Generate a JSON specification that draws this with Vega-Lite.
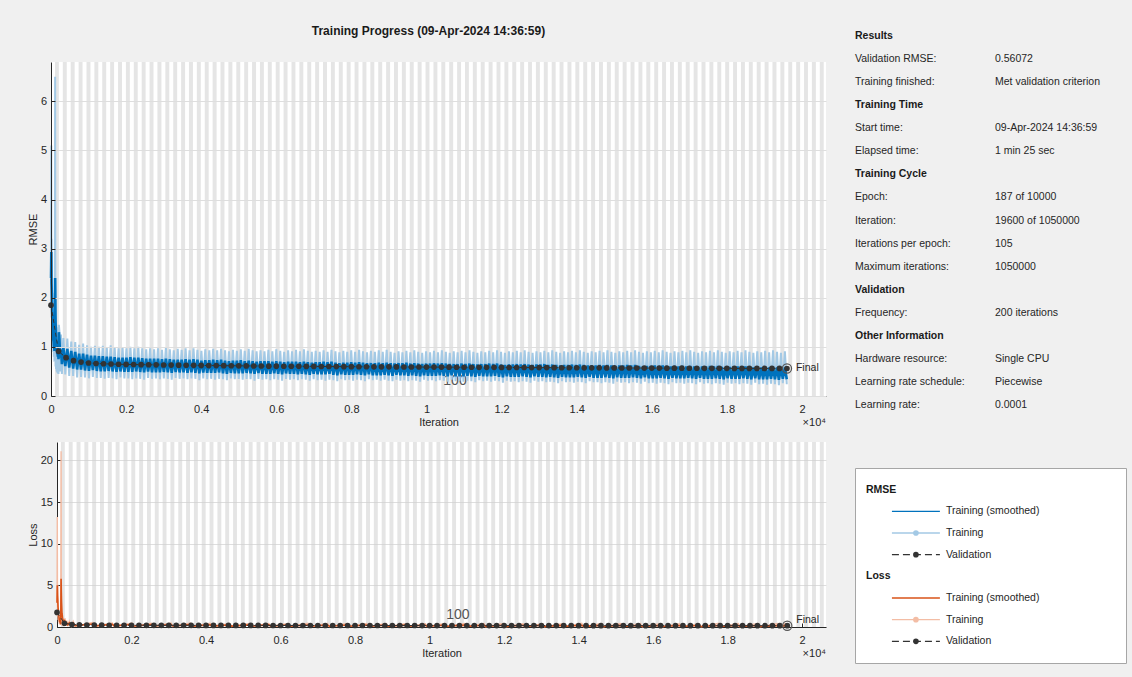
{
  "$schema": "https://vega.github.io/schema/vega-lite/v6.json",
  "background": "#f0f0f0",
  "padding": {"left": 27, "top": 25, "right": 6, "bottom": 15},
  "config": {
    "font": "Liberation Sans",
    "view": {"stroke": null},
    "legend": {"disable": true},
    "axis": {
      "domainColor": "#262626",
      "domainWidth": 1,
      "tickColor": "#262626",
      "tickSize": -4,
      "labelColor": "#262626",
      "labelFontSize": 11,
      "titleColor": "#262626",
      "titleFontSize": 11,
      "titleFontWeight": "normal",
      "gridColor": "#dedede",
      "labelFlush": false,
      "labelOverlap": false
    },
    "axisX": {"grid": false, "labelPadding": 11, "titlePadding": 2},
    "axisY": {"grid": true, "labelPadding": 8.5, "titlePadding": 2}
  },
  "datasets": {
    "stripes": [
      {"i":105,"j":210},{"i":315,"j":420},{"i":525,"j":630},{"i":735,"j":840},{"i":945,"j":1050},
      {"i":1155,"j":1260},{"i":1365,"j":1470},{"i":1575,"j":1680},{"i":1785,"j":1890},{"i":1995,"j":2100},
      {"i":2205,"j":2310},{"i":2415,"j":2520},{"i":2625,"j":2730},{"i":2835,"j":2940},{"i":3045,"j":3150},
      {"i":3255,"j":3360},{"i":3465,"j":3570},{"i":3675,"j":3780},{"i":3885,"j":3990},{"i":4095,"j":4200},
      {"i":4305,"j":4410},{"i":4515,"j":4620},{"i":4725,"j":4830},{"i":4935,"j":5040},{"i":5145,"j":5250},
      {"i":5355,"j":5460},{"i":5565,"j":5670},{"i":5775,"j":5880},{"i":5985,"j":6090},{"i":6195,"j":6300},
      {"i":6405,"j":6510},{"i":6615,"j":6720},{"i":6825,"j":6930},{"i":7035,"j":7140},{"i":7245,"j":7350},
      {"i":7455,"j":7560},{"i":7665,"j":7770},{"i":7875,"j":7980},{"i":8085,"j":8190},{"i":8295,"j":8400},
      {"i":8505,"j":8610},{"i":8715,"j":8820},{"i":8925,"j":9030},{"i":9135,"j":9240},{"i":9345,"j":9450},
      {"i":9555,"j":9660},{"i":9765,"j":9870},{"i":9975,"j":10080},{"i":10185,"j":10290},{"i":10395,"j":10500},
      {"i":10605,"j":10710},{"i":10815,"j":10920},{"i":11025,"j":11130},{"i":11235,"j":11340},{"i":11445,"j":11550},
      {"i":11655,"j":11760},{"i":11865,"j":11970},{"i":12075,"j":12180},{"i":12285,"j":12390},{"i":12495,"j":12600},
      {"i":12705,"j":12810},{"i":12915,"j":13020},{"i":13125,"j":13230},{"i":13335,"j":13440},{"i":13545,"j":13650},
      {"i":13755,"j":13860},{"i":13965,"j":14070},{"i":14175,"j":14280},{"i":14385,"j":14490},{"i":14595,"j":14700},
      {"i":14805,"j":14910},{"i":15015,"j":15120},{"i":15225,"j":15330},{"i":15435,"j":15540},{"i":15645,"j":15750},
      {"i":15855,"j":15960},{"i":16065,"j":16170},{"i":16275,"j":16380},{"i":16485,"j":16590},{"i":16695,"j":16800},
      {"i":16905,"j":17010},{"i":17115,"j":17220},{"i":17325,"j":17430},{"i":17535,"j":17640},{"i":17745,"j":17850},
      {"i":17955,"j":18060},{"i":18165,"j":18270},{"i":18375,"j":18480},{"i":18585,"j":18690},{"i":18795,"j":18900},
      {"i":19005,"j":19110},{"i":19215,"j":19320},{"i":19425,"j":19530},{"i":19635,"j":19740},{"i":19845,"j":19950},
      {"i":20055,"j":20160},{"i":20265,"j":20370},{"i":20475,"j":20580}
    ],
    "rmse": [
      {"i":1,"t":2.4,"s":2.4},{"i":8,"t":5.1,"s":2.93},{"i":14,"t":1.6,"s":2.3},{"i":20,"t":3.2,"s":2.15},
      {"i":28,"t":1.3,"s":1.8},{"i":36,"t":2.1,"s":1.62},{"i":44,"t":1.1,"s":1.42},{"i":52,"t":1.7,"s":1.3},
      {"i":60,"t":0.9,"s":1.15},{"i":68,"t":1.5,"s":1.12},{"i":76,"t":0.8,"s":1.0},{"i":84,"t":1.4,"s":1.02},
      {"i":92,"t":0.7,"s":0.92},{"i":100,"t":1.3,"s":0.95},{"i":110,"t":6.5,"s":2.4},{"i":116,"t":1.2,"s":1.95},
      {"i":122,"t":0.6,"s":1.5},{"i":128,"t":1.6,"s":1.35},{"i":134,"t":0.55,"s":1.1},{"i":142,"t":1.45,"s":1.12},
      {"i":150,"t":0.5,"s":0.95},{"i":158,"t":1.4,"s":1.05},{"i":166,"t":0.48,"s":0.85},{"i":174,"t":1.35,"s":0.95},
      {"i":182,"t":0.46,"s":0.8},{"i":190,"t":1.3,"s":0.9},{"i":200,"t":0.45,"s":0.75},{"i":210,"t":1.45,"s":1.3},
      {"i":225,"t":1.3,"s":1.15},{"i":245,"t":0.5,"s":0.78},{"i":265,"t":1.25,"s":0.95},{"i":290,"t":0.45,"s":0.65},
      {"i":330,"t":1.18,"s":0.99},{"i":380,"t":0.44,"s":0.61},{"i":435,"t":1.17,"s":0.96},{"i":485,"t":0.41,"s":0.58},
      {"i":540,"t":1.11,"s":0.92},{"i":590,"t":0.41,"s":0.56},{"i":645,"t":1.1,"s":0.9},{"i":695,"t":0.38,"s":0.54},
      {"i":750,"t":1.04,"s":0.86},{"i":800,"t":0.39,"s":0.54},{"i":855,"t":1.07,"s":0.86},{"i":905,"t":0.38,"s":0.52},
      {"i":960,"t":1.03,"s":0.84},{"i":1010,"t":0.36,"s":0.51},{"i":1065,"t":1.0,"s":0.82},{"i":1115,"t":0.39,"s":0.53},
      {"i":1170,"t":1.02,"s":0.82},{"i":1220,"t":0.37,"s":0.51},{"i":1275,"t":1.0,"s":0.81},{"i":1325,"t":0.37,"s":0.5},
      {"i":1380,"t":1.02,"s":0.81},{"i":1430,"t":0.35,"s":0.5},{"i":1485,"t":0.99,"s":0.8},{"i":1535,"t":0.37,"s":0.51},
      {"i":1590,"t":1.03,"s":0.8},{"i":1640,"t":0.36,"s":0.5},{"i":1695,"t":0.99,"s":0.79},{"i":1745,"t":0.34,"s":0.49},
      {"i":1800,"t":0.97,"s":0.78},{"i":1850,"t":0.38,"s":0.5},{"i":1905,"t":0.99,"s":0.78},{"i":1955,"t":0.36,"s":0.49},
      {"i":2010,"t":0.97,"s":0.78},{"i":2060,"t":0.36,"s":0.49},{"i":2115,"t":1.0,"s":0.79},{"i":2165,"t":0.34,"s":0.49},
      {"i":2220,"t":0.97,"s":0.78},{"i":2270,"t":0.36,"s":0.5},{"i":2325,"t":1.0,"s":0.78},{"i":2375,"t":0.35,"s":0.49},
      {"i":2430,"t":0.97,"s":0.77},{"i":2480,"t":0.33,"s":0.48},{"i":2535,"t":0.95,"s":0.76},{"i":2585,"t":0.37,"s":0.5},
      {"i":2640,"t":0.97,"s":0.76},{"i":2690,"t":0.35,"s":0.48},{"i":2745,"t":0.95,"s":0.76},{"i":2795,"t":0.36,"s":0.48},
      {"i":2850,"t":0.97,"s":0.76},{"i":2900,"t":0.34,"s":0.48},{"i":2955,"t":0.94,"s":0.75},{"i":3005,"t":0.36,"s":0.49},
      {"i":3060,"t":0.98,"s":0.76},{"i":3110,"t":0.35,"s":0.48},{"i":3165,"t":0.95,"s":0.75},{"i":3215,"t":0.33,"s":0.47},
      {"i":3270,"t":0.93,"s":0.74},{"i":3320,"t":0.37,"s":0.49},{"i":3375,"t":0.96,"s":0.74},{"i":3425,"t":0.35,"s":0.48},
      {"i":3480,"t":0.94,"s":0.74},{"i":3530,"t":0.36,"s":0.48},{"i":3585,"t":0.97,"s":0.75},{"i":3635,"t":0.34,"s":0.47},
      {"i":3690,"t":0.93,"s":0.74},{"i":3740,"t":0.36,"s":0.48},{"i":3795,"t":0.97,"s":0.75},{"i":3845,"t":0.35,"s":0.47},
      {"i":3900,"t":0.94,"s":0.74},{"i":3950,"t":0.32,"s":0.46},{"i":4005,"t":0.92,"s":0.72},{"i":4055,"t":0.36,"s":0.48},
      {"i":4110,"t":0.95,"s":0.73},{"i":4160,"t":0.34,"s":0.47},{"i":4215,"t":0.93,"s":0.73},{"i":4265,"t":0.35,"s":0.47},
      {"i":4320,"t":0.96,"s":0.74},{"i":4370,"t":0.33,"s":0.47},{"i":4425,"t":0.93,"s":0.73},{"i":4475,"t":0.35,"s":0.48},
      {"i":4530,"t":0.96,"s":0.74},{"i":4580,"t":0.34,"s":0.46},{"i":4635,"t":0.93,"s":0.72},{"i":4685,"t":0.32,"s":0.45},
      {"i":4740,"t":0.91,"s":0.71},{"i":4790,"t":0.36,"s":0.47},{"i":4845,"t":0.94,"s":0.72},{"i":4895,"t":0.34,"s":0.46},
      {"i":4950,"t":0.92,"s":0.72},{"i":5000,"t":0.35,"s":0.46},{"i":5055,"t":0.95,"s":0.73},{"i":5105,"t":0.33,"s":0.46},
      {"i":5160,"t":0.92,"s":0.71},{"i":5210,"t":0.35,"s":0.47},{"i":5265,"t":0.96,"s":0.72},{"i":5315,"t":0.34,"s":0.46},
      {"i":5370,"t":0.93,"s":0.71},{"i":5420,"t":0.31,"s":0.45},{"i":5475,"t":0.91,"s":0.7},{"i":5525,"t":0.35,"s":0.47},
      {"i":5580,"t":0.93,"s":0.71},{"i":5630,"t":0.33,"s":0.45},{"i":5685,"t":0.91,"s":0.71},{"i":5735,"t":0.34,"s":0.45},
      {"i":5790,"t":0.94,"s":0.71},{"i":5840,"t":0.32,"s":0.45},{"i":5895,"t":0.91,"s":0.7},{"i":5945,"t":0.34,"s":0.46},
      {"i":6000,"t":0.95,"s":0.71},{"i":6050,"t":0.33,"s":0.45},{"i":6105,"t":0.92,"s":0.7},{"i":6155,"t":0.31,"s":0.44},
      {"i":6210,"t":0.9,"s":0.69},{"i":6260,"t":0.35,"s":0.46},{"i":6315,"t":0.93,"s":0.7},{"i":6365,"t":0.33,"s":0.45},
      {"i":6420,"t":0.91,"s":0.7},{"i":6470,"t":0.34,"s":0.45},{"i":6525,"t":0.94,"s":0.7},{"i":6575,"t":0.32,"s":0.44},
      {"i":6630,"t":0.91,"s":0.69},{"i":6680,"t":0.34,"s":0.45},{"i":6735,"t":0.95,"s":0.7},{"i":6785,"t":0.33,"s":0.44},
      {"i":6840,"t":0.92,"s":0.69},{"i":6890,"t":0.31,"s":0.43},{"i":6945,"t":0.9,"s":0.68},{"i":6995,"t":0.34,"s":0.45},
      {"i":7050,"t":0.92,"s":0.69},{"i":7100,"t":0.32,"s":0.44},{"i":7155,"t":0.9,"s":0.69},{"i":7205,"t":0.33,"s":0.44},
      {"i":7260,"t":0.93,"s":0.7},{"i":7310,"t":0.31,"s":0.44},{"i":7365,"t":0.9,"s":0.69},{"i":7415,"t":0.33,"s":0.45},
      {"i":7470,"t":0.94,"s":0.7},{"i":7520,"t":0.32,"s":0.43},{"i":7575,"t":0.91,"s":0.68},{"i":7625,"t":0.3,"s":0.42},
      {"i":7680,"t":0.89,"s":0.67},{"i":7730,"t":0.34,"s":0.44},{"i":7785,"t":0.92,"s":0.68},{"i":7835,"t":0.32,"s":0.43},
      {"i":7890,"t":0.9,"s":0.68},{"i":7940,"t":0.33,"s":0.43},{"i":7995,"t":0.93,"s":0.69},{"i":8045,"t":0.31,"s":0.43},
      {"i":8100,"t":0.9,"s":0.68},{"i":8150,"t":0.33,"s":0.44},{"i":8205,"t":0.94,"s":0.69},{"i":8255,"t":0.32,"s":0.43},
      {"i":8310,"t":0.91,"s":0.68},{"i":8360,"t":0.3,"s":0.42},{"i":8415,"t":0.89,"s":0.67},{"i":8465,"t":0.34,"s":0.44},
      {"i":8520,"t":0.92,"s":0.67},{"i":8570,"t":0.32,"s":0.42},{"i":8625,"t":0.9,"s":0.67},{"i":8675,"t":0.33,"s":0.42},
      {"i":8730,"t":0.93,"s":0.68},{"i":8780,"t":0.31,"s":0.42},{"i":8835,"t":0.9,"s":0.67},{"i":8885,"t":0.33,"s":0.43},
      {"i":8940,"t":0.94,"s":0.68},{"i":8990,"t":0.31,"s":0.42},{"i":9045,"t":0.9,"s":0.67},{"i":9095,"t":0.3,"s":0.41},
      {"i":9150,"t":0.88,"s":0.66},{"i":9200,"t":0.33,"s":0.43},{"i":9255,"t":0.91,"s":0.67},{"i":9305,"t":0.31,"s":0.42},
      {"i":9360,"t":0.89,"s":0.67},{"i":9410,"t":0.32,"s":0.42},{"i":9465,"t":0.92,"s":0.68},{"i":9515,"t":0.3,"s":0.41},
      {"i":9570,"t":0.89,"s":0.66},{"i":9620,"t":0.32,"s":0.42},{"i":9675,"t":0.93,"s":0.67},{"i":9725,"t":0.31,"s":0.41},
      {"i":9780,"t":0.9,"s":0.66},{"i":9830,"t":0.29,"s":0.4},{"i":9885,"t":0.88,"s":0.65},{"i":9935,"t":0.33,"s":0.42},
      {"i":9990,"t":0.91,"s":0.66},{"i":10040,"t":0.31,"s":0.41},{"i":10095,"t":0.89,"s":0.66},{"i":10145,"t":0.32,"s":0.41},
      {"i":10200,"t":0.92,"s":0.67},{"i":10250,"t":0.3,"s":0.41},{"i":10305,"t":0.89,"s":0.66},{"i":10355,"t":0.32,"s":0.42},
      {"i":10410,"t":0.93,"s":0.67},{"i":10460,"t":0.31,"s":0.41},{"i":10515,"t":0.9,"s":0.66},{"i":10565,"t":0.29,"s":0.4},
      {"i":10620,"t":0.88,"s":0.65},{"i":10670,"t":0.33,"s":0.42},{"i":10725,"t":0.91,"s":0.65},{"i":10775,"t":0.3,"s":0.4},
      {"i":10830,"t":0.89,"s":0.65},{"i":10880,"t":0.31,"s":0.4},{"i":10935,"t":0.92,"s":0.66},{"i":10985,"t":0.29,"s":0.4},
      {"i":11040,"t":0.89,"s":0.65},{"i":11090,"t":0.31,"s":0.41},{"i":11145,"t":0.93,"s":0.66},{"i":11195,"t":0.3,"s":0.4},
      {"i":11250,"t":0.9,"s":0.65},{"i":11300,"t":0.28,"s":0.39},{"i":11355,"t":0.88,"s":0.64},{"i":11405,"t":0.32,"s":0.41},
      {"i":11460,"t":0.91,"s":0.65},{"i":11510,"t":0.3,"s":0.4},{"i":11565,"t":0.89,"s":0.65},{"i":11615,"t":0.31,"s":0.4},
      {"i":11670,"t":0.92,"s":0.66},{"i":11720,"t":0.29,"s":0.4},{"i":11775,"t":0.89,"s":0.65},{"i":11825,"t":0.31,"s":0.41},
      {"i":11880,"t":0.93,"s":0.66},{"i":11930,"t":0.3,"s":0.39},{"i":11985,"t":0.9,"s":0.64},{"i":12035,"t":0.27,"s":0.38},
      {"i":12090,"t":0.88,"s":0.63},{"i":12140,"t":0.31,"s":0.4},{"i":12195,"t":0.91,"s":0.64},{"i":12245,"t":0.29,"s":0.39},
      {"i":12300,"t":0.89,"s":0.64},{"i":12350,"t":0.3,"s":0.39},{"i":12405,"t":0.92,"s":0.65},{"i":12455,"t":0.28,"s":0.39},
      {"i":12510,"t":0.89,"s":0.64},{"i":12560,"t":0.3,"s":0.4},{"i":12615,"t":0.93,"s":0.65},{"i":12665,"t":0.29,"s":0.39},
      {"i":12720,"t":0.9,"s":0.64},{"i":12770,"t":0.27,"s":0.38},{"i":12825,"t":0.88,"s":0.63},{"i":12875,"t":0.31,"s":0.4},
      {"i":12930,"t":0.91,"s":0.64},{"i":12980,"t":0.29,"s":0.39},{"i":13035,"t":0.89,"s":0.64},{"i":13085,"t":0.3,"s":0.39},
      {"i":13140,"t":0.92,"s":0.65},{"i":13190,"t":0.28,"s":0.38},{"i":13245,"t":0.89,"s":0.63},{"i":13295,"t":0.29,"s":0.39},
      {"i":13350,"t":0.93,"s":0.64},{"i":13400,"t":0.28,"s":0.38},{"i":13455,"t":0.9,"s":0.63},{"i":13505,"t":0.26,"s":0.37},
      {"i":13560,"t":0.88,"s":0.62},{"i":13610,"t":0.3,"s":0.39},{"i":13665,"t":0.91,"s":0.63},{"i":13715,"t":0.28,"s":0.38},
      {"i":13770,"t":0.89,"s":0.63},{"i":13820,"t":0.29,"s":0.38},{"i":13875,"t":0.92,"s":0.64},{"i":13925,"t":0.27,"s":0.38},
      {"i":13980,"t":0.89,"s":0.63},{"i":14030,"t":0.29,"s":0.39},{"i":14085,"t":0.93,"s":0.64},{"i":14135,"t":0.28,"s":0.38},
      {"i":14190,"t":0.9,"s":0.63},{"i":14240,"t":0.26,"s":0.37},{"i":14295,"t":0.88,"s":0.62},{"i":14345,"t":0.3,"s":0.39},
      {"i":14400,"t":0.91,"s":0.62},{"i":14450,"t":0.28,"s":0.37},{"i":14505,"t":0.89,"s":0.62},{"i":14555,"t":0.28,"s":0.37},
      {"i":14610,"t":0.92,"s":0.63},{"i":14660,"t":0.26,"s":0.37},{"i":14715,"t":0.89,"s":0.62},{"i":14765,"t":0.28,"s":0.38},
      {"i":14820,"t":0.93,"s":0.63},{"i":14870,"t":0.27,"s":0.37},{"i":14925,"t":0.9,"s":0.62},{"i":14975,"t":0.25,"s":0.36},
      {"i":15030,"t":0.88,"s":0.61},{"i":15080,"t":0.29,"s":0.38},{"i":15135,"t":0.91,"s":0.62},{"i":15185,"t":0.27,"s":0.37},
      {"i":15240,"t":0.89,"s":0.62},{"i":15290,"t":0.28,"s":0.37},{"i":15345,"t":0.92,"s":0.63},{"i":15395,"t":0.26,"s":0.37},
      {"i":15450,"t":0.89,"s":0.62},{"i":15500,"t":0.28,"s":0.38},{"i":15555,"t":0.93,"s":0.63},{"i":15605,"t":0.27,"s":0.37},
      {"i":15660,"t":0.9,"s":0.61},{"i":15710,"t":0.25,"s":0.36},{"i":15765,"t":0.88,"s":0.6},{"i":15815,"t":0.29,"s":0.38},
      {"i":15870,"t":0.91,"s":0.61},{"i":15920,"t":0.26,"s":0.36},{"i":15975,"t":0.89,"s":0.61},{"i":16025,"t":0.27,"s":0.36},
      {"i":16080,"t":0.92,"s":0.62},{"i":16130,"t":0.25,"s":0.36},{"i":16185,"t":0.89,"s":0.61},{"i":16235,"t":0.27,"s":0.37},
      {"i":16290,"t":0.93,"s":0.62},{"i":16340,"t":0.26,"s":0.36},{"i":16395,"t":0.9,"s":0.61},{"i":16445,"t":0.24,"s":0.35},
      {"i":16500,"t":0.88,"s":0.6},{"i":16550,"t":0.28,"s":0.37},{"i":16605,"t":0.91,"s":0.61},{"i":16655,"t":0.26,"s":0.36},
      {"i":16710,"t":0.89,"s":0.6},{"i":16760,"t":0.27,"s":0.36},{"i":16815,"t":0.92,"s":0.61},{"i":16865,"t":0.25,"s":0.36},
      {"i":16920,"t":0.89,"s":0.6},{"i":16970,"t":0.27,"s":0.37},{"i":17025,"t":0.93,"s":0.61},{"i":17075,"t":0.26,"s":0.36},
      {"i":17130,"t":0.9,"s":0.6},{"i":17180,"t":0.24,"s":0.35},{"i":17235,"t":0.88,"s":0.59},{"i":17285,"t":0.28,"s":0.37},
      {"i":17340,"t":0.91,"s":0.6},{"i":17390,"t":0.25,"s":0.35},{"i":17445,"t":0.89,"s":0.6},{"i":17495,"t":0.26,"s":0.35},
      {"i":17550,"t":0.92,"s":0.61},{"i":17600,"t":0.24,"s":0.35},{"i":17655,"t":0.89,"s":0.6},{"i":17705,"t":0.26,"s":0.36},
      {"i":17760,"t":0.93,"s":0.61},{"i":17810,"t":0.25,"s":0.35},{"i":17865,"t":0.9,"s":0.59},{"i":17915,"t":0.23,"s":0.34},
      {"i":17970,"t":0.88,"s":0.58},{"i":18020,"t":0.27,"s":0.36},{"i":18075,"t":0.91,"s":0.59},{"i":18125,"t":0.25,"s":0.35},
      {"i":18180,"t":0.89,"s":0.59},{"i":18230,"t":0.26,"s":0.35},{"i":18285,"t":0.92,"s":0.6},{"i":18335,"t":0.24,"s":0.35},
      {"i":18390,"t":0.89,"s":0.59},{"i":18440,"t":0.26,"s":0.36},{"i":18495,"t":0.93,"s":0.6},{"i":18545,"t":0.25,"s":0.35},
      {"i":18600,"t":0.9,"s":0.59},{"i":18650,"t":0.23,"s":0.34},{"i":18705,"t":0.88,"s":0.58},{"i":18755,"t":0.27,"s":0.36},
      {"i":18810,"t":0.91,"s":0.59},{"i":18860,"t":0.24,"s":0.34},{"i":18915,"t":0.89,"s":0.58},{"i":18965,"t":0.25,"s":0.34},
      {"i":19020,"t":0.92,"s":0.59},{"i":19070,"t":0.23,"s":0.34},{"i":19125,"t":0.89,"s":0.58},{"i":19175,"t":0.25,"s":0.35},
      {"i":19230,"t":0.93,"s":0.59},{"i":19280,"t":0.24,"s":0.34},{"i":19335,"t":0.9,"s":0.58},{"i":19385,"t":0.22,"s":0.33},
      {"i":19440,"t":0.88,"s":0.57},{"i":19490,"t":0.26,"s":0.35},{"i":19545,"t":0.91,"s":0.58},{"i":19595,"t":0.24,"s":0.34}
    ],
    "loss": [
      {"i":1,"t":2.9,"s":2.9},{"i":8,"t":13.2,"s":5.0},{"i":14,"t":1.3,"s":3.8},{"i":20,"t":5.1,"s":3.3},
      {"i":28,"t":0.85,"s":2.4},{"i":36,"t":2.2,"s":2.0},{"i":44,"t":0.6,"s":1.5},{"i":52,"t":1.45,"s":1.2},
      {"i":60,"t":0.4,"s":0.9},{"i":68,"t":1.1,"s":0.8},{"i":76,"t":0.32,"s":0.6},{"i":84,"t":1.0,"s":0.58},
      {"i":92,"t":0.25,"s":0.45},{"i":100,"t":0.85,"s":0.48},{"i":110,"t":21.1,"s":5.8},{"i":116,"t":0.72,"s":4.2},
      {"i":122,"t":0.18,"s":3.0},{"i":128,"t":1.3,"s":2.3},{"i":134,"t":0.15,"s":1.6},{"i":142,"t":1.05,"s":1.4},
      {"i":150,"t":0.13,"s":1.0},{"i":158,"t":0.98,"s":0.95},{"i":166,"t":0.12,"s":0.7},{"i":174,"t":0.9,"s":0.7},
      {"i":182,"t":0.1,"s":0.5},{"i":190,"t":0.85,"s":0.55},{"i":200,"t":0.1,"s":0.4},{"i":210,"t":1.05,"s":0.7},
      {"i":225,"t":0.85,"s":0.6},{"i":245,"t":0.13,"s":0.35},{"i":265,"t":0.78,"s":0.42},{"i":290,"t":0.1,"s":0.25},
      {"i":330,"t":0.7,"s":0.49},{"i":380,"t":0.1,"s":0.19},
      {"i":435,"t":0.68,"s":0.46},{"i":485,"t":0.084,"s":0.168},{"i":960,"t":0.53,"s":0.353},{"i":1010,"t":0.065,"s":0.13},
      {"i":1485,"t":0.49,"s":0.32},{"i":1535,"t":0.068,"s":0.13},{"i":2010,"t":0.47,"s":0.304},{"i":2060,"t":0.065,"s":0.12},
      {"i":2535,"t":0.45,"s":0.289},{"i":2585,"t":0.068,"s":0.125},{"i":3060,"t":0.48,"s":0.289},{"i":3110,"t":0.061,"s":0.115},
      {"i":3585,"t":0.47,"s":0.281},{"i":3635,"t":0.058,"s":0.11},{"i":4110,"t":0.451,"s":0.266},{"i":4160,"t":0.058,"s":0.11},
      {"i":4635,"t":0.432,"s":0.259},{"i":4685,"t":0.051,"s":0.101},{"i":5160,"t":0.423,"s":0.252},{"i":5210,"t":0.061,"s":0.11},
      {"i":5685,"t":0.414,"s":0.252},{"i":5735,"t":0.058,"s":0.101},{"i":6210,"t":0.405,"s":0.238},{"i":6260,"t":0.061,"s":0.106},
      {"i":6735,"t":0.451,"s":0.245},{"i":6785,"t":0.054,"s":0.097},{"i":7260,"t":0.432,"s":0.245},{"i":7310,"t":0.048,"s":0.097},
      {"i":7785,"t":0.423,"s":0.231},{"i":7835,"t":0.051,"s":0.092},{"i":8310,"t":0.414,"s":0.231},{"i":8360,"t":0.045,"s":0.088},
      {"i":8835,"t":0.405,"s":0.224},{"i":8885,"t":0.054,"s":0.092},{"i":9360,"t":0.396,"s":0.224},{"i":9410,"t":0.051,"s":0.088},
      {"i":9885,"t":0.387,"s":0.211},{"i":9935,"t":0.054,"s":0.088},{"i":10410,"t":0.432,"s":0.224},{"i":10460,"t":0.048,"s":0.084},
      {"i":10935,"t":0.423,"s":0.218},{"i":10985,"t":0.042,"s":0.08},{"i":11460,"t":0.414,"s":0.211},{"i":11510,"t":0.045,"s":0.08},
      {"i":11985,"t":0.405,"s":0.205},{"i":12035,"t":0.036,"s":0.072},{"i":12510,"t":0.396,"s":0.205},{"i":12560,"t":0.045,"s":0.08},
      {"i":13035,"t":0.396,"s":0.205},{"i":13085,"t":0.045,"s":0.076},{"i":13560,"t":0.387,"s":0.192},{"i":13610,"t":0.045,"s":0.076},
      {"i":14085,"t":0.432,"s":0.205},{"i":14135,"t":0.039,"s":0.072},{"i":14610,"t":0.423,"s":0.198},{"i":14660,"t":0.034,"s":0.068},
      {"i":15135,"t":0.414,"s":0.192},{"i":15185,"t":0.036,"s":0.068},{"i":15660,"t":0.405,"s":0.186},{"i":15710,"t":0.031,"s":0.065},
      {"i":16185,"t":0.396,"s":0.186},{"i":16235,"t":0.036,"s":0.068},{"i":16710,"t":0.396,"s":0.18},{"i":16760,"t":0.036,"s":0.065},
      {"i":17235,"t":0.387,"s":0.174},{"i":17285,"t":0.039,"s":0.068},{"i":17760,"t":0.432,"s":0.186},{"i":17810,"t":0.031,"s":0.061},
      {"i":18285,"t":0.423,"s":0.18},{"i":18335,"t":0.029,"s":0.061},{"i":18810,"t":0.414,"s":0.174},{"i":18860,"t":0.029,"s":0.058},
      {"i":19335,"t":0.405,"s":0.168},{"i":19385,"t":0.024,"s":0.054},{"i":19545,"t":0.414,"s":0.168},{"i":19595,"t":0.029,"s":0.058}
    ],
    "val": [
      {"i":0,"r":1.85,"l":1.75},{"i":200,"r":0.91,"l":0.45},{"i":400,"r":0.78,"l":0.304},{"i":600,"r":0.72,"l":0.259},
      {"i":800,"r":0.69,"l":0.238},{"i":1000,"r":0.672,"l":0.226},{"i":1200,"r":0.662,"l":0.219},{"i":1400,"r":0.656,"l":0.215},
      {"i":1600,"r":0.651,"l":0.212},{"i":1800,"r":0.647,"l":0.209},{"i":2000,"r":0.643,"l":0.207},{"i":2200,"r":0.641,"l":0.205},
      {"i":2400,"r":0.638,"l":0.204},{"i":2600,"r":0.636,"l":0.202},{"i":2800,"r":0.634,"l":0.201},{"i":3000,"r":0.632,"l":0.2},
      {"i":3200,"r":0.63,"l":0.198},{"i":3400,"r":0.628,"l":0.197},{"i":3600,"r":0.626,"l":0.196},{"i":3800,"r":0.624,"l":0.195},
      {"i":4000,"r":0.622,"l":0.193},{"i":4200,"r":0.62,"l":0.192},{"i":4400,"r":0.619,"l":0.192},{"i":4600,"r":0.617,"l":0.19},
      {"i":4800,"r":0.616,"l":0.19},{"i":5000,"r":0.614,"l":0.189},{"i":5200,"r":0.613,"l":0.188},{"i":5400,"r":0.611,"l":0.187},
      {"i":5600,"r":0.61,"l":0.186},{"i":5800,"r":0.608,"l":0.185},{"i":6000,"r":0.607,"l":0.184},{"i":6200,"r":0.606,"l":0.184},
      {"i":6400,"r":0.605,"l":0.183},{"i":6600,"r":0.604,"l":0.182},{"i":6800,"r":0.603,"l":0.182},{"i":7000,"r":0.602,"l":0.181},
      {"i":7200,"r":0.601,"l":0.181},{"i":7400,"r":0.6,"l":0.18},{"i":7600,"r":0.599,"l":0.179},{"i":7800,"r":0.598,"l":0.179},
      {"i":8000,"r":0.597,"l":0.178},{"i":8200,"r":0.596,"l":0.178},{"i":8400,"r":0.595,"l":0.177},{"i":8600,"r":0.594,"l":0.176},
      {"i":8800,"r":0.594,"l":0.176},{"i":9000,"r":0.593,"l":0.176},{"i":9200,"r":0.592,"l":0.175},{"i":9400,"r":0.591,"l":0.175},
      {"i":9600,"r":0.591,"l":0.175},{"i":9800,"r":0.59,"l":0.174},{"i":10000,"r":0.589,"l":0.173},{"i":10200,"r":0.588,"l":0.173},
      {"i":10400,"r":0.588,"l":0.173},{"i":10600,"r":0.587,"l":0.172},{"i":10800,"r":0.586,"l":0.172},{"i":11000,"r":0.585,"l":0.171},
      {"i":11200,"r":0.585,"l":0.171},{"i":11400,"r":0.584,"l":0.171},{"i":11600,"r":0.583,"l":0.17},{"i":11800,"r":0.583,"l":0.17},
      {"i":12000,"r":0.582,"l":0.169},{"i":12200,"r":0.581,"l":0.169},{"i":12400,"r":0.58,"l":0.168},{"i":12600,"r":0.58,"l":0.168},
      {"i":12800,"r":0.579,"l":0.168},{"i":13000,"r":0.578,"l":0.167},{"i":13200,"r":0.578,"l":0.167},{"i":13400,"r":0.577,"l":0.166},
      {"i":13600,"r":0.576,"l":0.166},{"i":13800,"r":0.576,"l":0.166},{"i":14000,"r":0.575,"l":0.165},{"i":14200,"r":0.574,"l":0.165},
      {"i":14400,"r":0.574,"l":0.165},{"i":14600,"r":0.573,"l":0.164},{"i":14800,"r":0.572,"l":0.164},{"i":15000,"r":0.572,"l":0.164},
      {"i":15200,"r":0.571,"l":0.163},{"i":15400,"r":0.57,"l":0.162},{"i":15600,"r":0.57,"l":0.162},{"i":15800,"r":0.569,"l":0.162},
      {"i":16000,"r":0.568,"l":0.161},{"i":16200,"r":0.568,"l":0.161},{"i":16400,"r":0.567,"l":0.161},{"i":16600,"r":0.567,"l":0.161},
      {"i":16800,"r":0.566,"l":0.16},{"i":17000,"r":0.565,"l":0.16},{"i":17200,"r":0.565,"l":0.16},{"i":17400,"r":0.564,"l":0.159},
      {"i":17600,"r":0.564,"l":0.159},{"i":17800,"r":0.563,"l":0.158},{"i":18000,"r":0.563,"l":0.158},{"i":18200,"r":0.562,"l":0.158},
      {"i":18400,"r":0.562,"l":0.158},{"i":18600,"r":0.562,"l":0.158},{"i":18800,"r":0.561,"l":0.157},{"i":19000,"r":0.561,"l":0.157},
      {"i":19200,"r":0.561,"l":0.157},{"i":19400,"r":0.561,"l":0.157},{"i":19600,"r":0.56072,"l":0.157}
    ],
    "heading": [{"title": "Training Progress (09-Apr-2024 14:36:59)"}],
    "plotarea": [{"area": "plot"}],
    "epochmark": [{"i": 10395, "ep": "100"}],
    "scalenote": [{"m": "×10⁴"}],
    "info": [
      {"n":1,"k":"Results","h":true},
      {"n":2,"k":"Validation RMSE:","v":"0.56072"},
      {"n":3,"k":"Training finished:","v":"Met validation criterion"},
      {"n":4,"k":"Training Time","h":true},
      {"n":5,"k":"Start time:","v":"09-Apr-2024 14:36:59"},
      {"n":6,"k":"Elapsed time:","v":"1 min 25 sec"},
      {"n":7,"k":"Training Cycle","h":true},
      {"n":8,"k":"Epoch:","v":"187 of 10000"},
      {"n":9,"k":"Iteration:","v":"19600 of 1050000"},
      {"n":10,"k":"Iterations per epoch:","v":"105"},
      {"n":11,"k":"Maximum iterations:","v":"1050000"},
      {"n":12,"k":"Validation","h":true},
      {"n":13,"k":"Frequency:","v":"200 iterations"},
      {"n":14,"k":"Other Information","h":true},
      {"n":15,"k":"Hardware resource:","v":"Single CPU"},
      {"n":16,"k":"Learning rate schedule:","v":"Piecewise"},
      {"n":17,"k":"Learning rate:","v":"0.0001"}
    ],
    "legend": [
      {"n":1,"k":"RMSE","h":true},
      {"n":2,"k":"Training (smoothed)","s":"RMSE smoothed"},
      {"n":3,"k":"Training","s":"RMSE training"},
      {"n":4,"k":"Validation","s":"RMSE validation"},
      {"n":5,"k":"Loss","h":true},
      {"n":6,"k":"Training (smoothed)","s":"Loss smoothed"},
      {"n":7,"k":"Training","s":"Loss training"},
      {"n":8,"k":"Validation","s":"Loss validation"}
    ]
  },
  "hconcat": [
    {
      "spacing": 25,
      "vconcat": [
        {
          "width": 769,
          "height": 12,
          "data": {"name": "heading"},
          "mark": {"type": "text", "align": "center", "baseline": "middle", "fontSize": 12, "fontWeight": "bold", "color": "#1a1a1a", "dx": -13},
          "encoding": {"text": {"field": "title"}}
        },
        {
          "spacing": 14,
          "vconcat": [
            {
              "width": 769,
              "height": 334,
              "view": {"stroke": null},
              "layer": [
                {
                  "data": {"name": "plotarea"},
                  "mark": {"type": "rect", "color": "#ffffff"},
                  "encoding": {
                    "x": {
                      "datum": 0,
                      "type": "quantitative",
                      "scale": {"domain": [0, 20640], "range": [-6, 769], "nice": false, "zero": false},
                      "axis": {
                        "title": "Iteration",
                        "values": [0, 2000, 4000, 6000, 8000, 10000, 12000, 14000, 16000, 18000, 20000],
                        "labelExpr": "'' + datum.value / 10000"
                      }
                    },
                    "x2": {"datum": 20640}
                  }
                },
                {
                  "data": {"name": "stripes"},
                  "mark": {"type": "rect", "color": "#cfcfcf", "opacity": 0.55},
                  "encoding": {
                    "x": {"field": "i", "type": "quantitative", "scale": {"domain": [0, 20640], "range": [-6, 769], "nice": false, "zero": false}},
                    "x2": {"field": "j"}
                  }
                },
                {
                  "data": {"name": "epochmark"},
                  "mark": {"type": "text", "align": "left", "baseline": "bottom", "dx": 2, "dy": -8, "fontSize": 14, "color": "#555555"},
                  "encoding": {
                    "x": {"field": "i", "type": "quantitative", "scale": {"domain": [0, 20640], "range": [-6, 769], "nice": false, "zero": false}},
                    "y": {"datum": 0, "type": "quantitative", "scale": {"domain": [0, 6.8], "nice": false}},
                    "text": {"field": "ep"}
                  }
                },
                {
                  "data": {"name": "rmse"},
                  "mark": {"type": "line", "color": "#a3c9e5", "strokeWidth": 2},
                  "encoding": {
                    "x": {"field": "i", "type": "quantitative", "scale": {"domain": [0, 20640], "range": [-6, 769], "nice": false, "zero": false}},
                    "y": {
                      "field": "t",
                      "type": "quantitative",
                      "scale": {"domain": [0, 6.8], "nice": false},
                      "axis": {"title": "RMSE", "values": [0, 1, 2, 3, 4, 5, 6], "offset": 6, "zindex": 1}
                    }
                  }
                },
                {
                  "data": {"name": "rmse"},
                  "mark": {"type": "line", "color": "#0072bd", "strokeWidth": 2.6},
                  "encoding": {
                    "x": {"field": "i", "type": "quantitative", "scale": {"domain": [0, 20640], "range": [-6, 769], "nice": false, "zero": false}},
                    "y": {"field": "s", "type": "quantitative", "scale": {"domain": [0, 6.8], "nice": false}}
                  }
                },
                {
                  "data": {"name": "val"},
                  "mark": {"type": "line", "color": "#333333", "strokeWidth": 1, "strokeDash": [4, 3]},
                  "encoding": {
                    "x": {"field": "i", "type": "quantitative", "scale": {"domain": [0, 20640], "range": [-6, 769], "nice": false, "zero": false}},
                    "y": {"field": "r", "type": "quantitative", "scale": {"domain": [0, 6.8], "nice": false}}
                  }
                },
                {
                  "data": {"name": "val"},
                  "mark": {"type": "point", "filled": true, "color": "#333333", "size": 32, "opacity": 1},
                  "encoding": {
                    "x": {"field": "i", "type": "quantitative", "scale": {"domain": [0, 20640], "range": [-6, 769], "nice": false, "zero": false}},
                    "y": {"field": "r", "type": "quantitative", "scale": {"domain": [0, 6.8], "nice": false}}
                  }
                },
                {
                  "data": {"name": "val"},
                  "transform": [{"filter": "datum.i == 19600"}],
                  "mark": {"type": "point", "filled": false, "color": "#555555", "size": 85, "strokeWidth": 1.2, "opacity": 1},
                  "encoding": {
                    "x": {"field": "i", "type": "quantitative", "scale": {"domain": [0, 20640], "range": [-6, 769], "nice": false, "zero": false}},
                    "y": {"field": "r", "type": "quantitative", "scale": {"domain": [0, 6.8], "nice": false}}
                  }
                },
                {
                  "data": {"name": "val"},
                  "transform": [{"filter": "datum.i == 19600"}],
                  "mark": {"type": "text", "align": "left", "baseline": "middle", "dx": 9, "fontSize": 10.5, "color": "#262626"},
                  "encoding": {
                    "x": {"field": "i", "type": "quantitative", "scale": {"domain": [0, 20640], "range": [-6, 769], "nice": false, "zero": false}},
                    "y": {"field": "r", "type": "quantitative", "scale": {"domain": [0, 6.8], "nice": false}},
                    "text": {"value": "Final"}
                  }
                },
                {
                  "data": {"name": "scalenote"},
                  "mark": {"type": "text", "align": "right", "baseline": "middle", "dy": 27, "fontSize": 11, "color": "#262626"},
                  "encoding": {
                    "x": {"value": "width"},
                    "y": {"value": "height"},
                    "text": {"field": "m"}
                  }
                }
              ]
            },
            {
              "width": 769,
              "height": 185,
              "view": {"fill": "#ffffff", "stroke": null},
              "layer": [
                {
                  "data": {"name": "stripes"},
                  "mark": {"type": "rect", "color": "#cfcfcf", "opacity": 0.55},
                  "encoding": {
                    "x": {
                      "field": "i",
                      "type": "quantitative",
                      "scale": {"domain": [0, 20640], "nice": false, "zero": false},
                      "axis": {
                        "title": "Iteration",
                        "values": [0, 2000, 4000, 6000, 8000, 10000, 12000, 14000, 16000, 18000, 20000],
                        "labelExpr": "'' + datum.value / 10000"
                      }
                    },
                    "x2": {"field": "j"}
                  }
                },
                {
                  "data": {"name": "loss"},
                  "mark": {"type": "line", "color": "#f3bda5", "strokeWidth": 1.4},
                  "encoding": {
                    "x": {"field": "i", "type": "quantitative", "scale": {"domain": [0, 20640], "nice": false, "zero": false}},
                    "y": {
                      "field": "t",
                      "type": "quantitative",
                      "scale": {"domain": [0, 22.2], "nice": false},
                      "axis": {"title": "Loss", "values": [0, 5, 10, 15, 20]}
                    }
                  }
                },
                {
                  "data": {"name": "loss"},
                  "mark": {"type": "line", "color": "#d95319", "strokeWidth": 1.6},
                  "encoding": {
                    "x": {"field": "i", "type": "quantitative", "scale": {"domain": [0, 20640], "nice": false, "zero": false}},
                    "y": {"field": "s", "type": "quantitative", "scale": {"domain": [0, 22.2], "nice": false}}
                  }
                },
                {
                  "data": {"name": "epochmark"},
                  "mark": {"type": "text", "align": "left", "baseline": "bottom", "dx": 2, "dy": -5, "fontSize": 14, "color": "#555555"},
                  "encoding": {
                    "x": {"field": "i", "type": "quantitative", "scale": {"domain": [0, 20640], "nice": false, "zero": false}},
                    "y": {"datum": 0, "type": "quantitative", "scale": {"domain": [0, 22.2], "nice": false}},
                    "text": {"field": "ep"}
                  }
                },
                {
                  "data": {"name": "val"},
                  "mark": {"type": "line", "color": "#333333", "strokeWidth": 1, "strokeDash": [4, 3]},
                  "encoding": {
                    "x": {"field": "i", "type": "quantitative", "scale": {"domain": [0, 20640], "nice": false, "zero": false}},
                    "y": {"field": "l", "type": "quantitative", "scale": {"domain": [0, 22.2], "nice": false}}
                  }
                },
                {
                  "data": {"name": "val"},
                  "mark": {"type": "point", "filled": true, "color": "#333333", "size": 32, "opacity": 1},
                  "encoding": {
                    "x": {"field": "i", "type": "quantitative", "scale": {"domain": [0, 20640], "nice": false, "zero": false}},
                    "y": {"field": "l", "type": "quantitative", "scale": {"domain": [0, 22.2], "nice": false}}
                  }
                },
                {
                  "data": {"name": "val"},
                  "transform": [{"filter": "datum.i == 19600"}],
                  "mark": {"type": "point", "filled": false, "color": "#555555", "size": 85, "strokeWidth": 1.2, "opacity": 1},
                  "encoding": {
                    "x": {"field": "i", "type": "quantitative", "scale": {"domain": [0, 20640], "nice": false, "zero": false}},
                    "y": {"field": "l", "type": "quantitative", "scale": {"domain": [0, 22.2], "nice": false}}
                  }
                },
                {
                  "data": {"name": "val"},
                  "transform": [{"filter": "datum.i == 19600"}],
                  "mark": {"type": "text", "align": "left", "baseline": "middle", "dx": 9, "dy": -6, "fontSize": 10.5, "color": "#262626"},
                  "encoding": {
                    "x": {"field": "i", "type": "quantitative", "scale": {"domain": [0, 20640], "nice": false, "zero": false}},
                    "y": {"field": "l", "type": "quantitative", "scale": {"domain": [0, 22.2], "nice": false}},
                    "text": {"value": "Final"}
                  }
                },
                {
                  "data": {"name": "scalenote"},
                  "mark": {"type": "text", "align": "right", "baseline": "middle", "dy": 27, "fontSize": 11, "color": "#262626"},
                  "encoding": {
                    "x": {"value": "width"},
                    "y": {"value": "height"},
                    "text": {"field": "m"}
                  }
                }
              ]
            }
          ]
        }
      ]
    },
    {
      "spacing": 51,
      "vconcat": [
        {
          "width": 140,
          "height": 391,
          "data": {"name": "info"},
          "view": {"stroke": null},
          "encoding": {
            "y": {"field": "n", "type": "ordinal", "scale": {"type": "point", "padding": 0.477}, "axis": null}
          },
          "layer": [
            {
              "transform": [{"filter": "datum.h"}],
              "mark": {"type": "text", "align": "left", "baseline": "middle", "fontSize": 10.5, "fontWeight": "bold", "color": "#1a1a1a"},
              "encoding": {
                "x": {"datum": "label", "type": "nominal", "scale": {"type": "point", "domain": ["label", "value"], "padding": 0}, "axis": null},
                "text": {"field": "k"}
              }
            },
            {
              "transform": [{"filter": "!datum.h"}],
              "mark": {"type": "text", "align": "left", "baseline": "middle", "fontSize": 10.5, "color": "#262626"},
              "encoding": {
                "x": {"datum": "label", "type": "nominal", "scale": {"type": "point", "domain": ["label", "value"], "padding": 0}, "axis": null},
                "text": {"field": "k"}
              }
            },
            {
              "transform": [{"filter": "!datum.h"}],
              "mark": {"type": "text", "align": "left", "baseline": "middle", "fontSize": 10.5, "color": "#262626"},
              "encoding": {
                "x": {"datum": "value", "type": "nominal", "scale": {"type": "point", "domain": ["label", "value"], "padding": 0}, "axis": null},
                "text": {"field": "v"}
              }
            }
          ]
        },
        {
          "width": 271,
          "height": 195,
          "data": {"name": "legend"},
          "view": {"fill": "#ffffff", "stroke": "#a6a6a6", "strokeWidth": 1},
          "encoding": {
            "y": {"field": "n", "type": "ordinal", "scale": {"type": "point", "padding": 1}, "axis": null}
          },
          "layer": [
            {
              "transform": [{"filter": "datum.h"}],
              "mark": {"type": "text", "align": "left", "baseline": "middle", "fontSize": 10.5, "fontWeight": "bold", "color": "#1a1a1a"},
              "encoding": {
                "x": {"datum": -0.54, "type": "quantitative", "scale": {"domain": [-0.77, 4.88], "nice": false, "zero": false}, "axis": null},
                "text": {"field": "k"}
              }
            },
            {
              "transform": [{"filter": "!datum.h"}],
              "mark": {"type": "rule", "strokeWidth": 1.4},
              "encoding": {
                "x": {"datum": 0, "type": "quantitative", "scale": {"domain": [-0.77, 4.88], "nice": false, "zero": false}, "axis": null},
                "x2": {"datum": 1},
                "color": {
                  "field": "s",
                  "type": "nominal",
                  "scale": {
                    "domain": ["RMSE smoothed", "RMSE training", "RMSE validation", "Loss smoothed", "Loss training", "Loss validation"],
                    "range": ["#0072bd", "#a3c9e5", "#333333", "#d95319", "#f3bda5", "#333333"]
                  },
                  "legend": null
                },
                "strokeDash": {
                  "field": "s",
                  "type": "nominal",
                  "scale": {
                    "domain": ["RMSE smoothed", "RMSE training", "RMSE validation", "Loss smoothed", "Loss training", "Loss validation"],
                    "range": [[1, 0], [1, 0], [7, 4], [1, 0], [1, 0], [7, 4]]
                  },
                  "legend": null
                }
              }
            },
            {
              "transform": [{"filter": "!datum.h && datum.k != 'Training (smoothed)'"}],
              "mark": {"type": "point", "filled": true, "size": 32, "opacity": 1},
              "encoding": {
                "x": {"datum": 0.5, "type": "quantitative", "scale": {"domain": [-0.77, 4.88], "nice": false, "zero": false}, "axis": null},
                "color": {
                  "field": "s",
                  "type": "nominal",
                  "scale": {
                    "domain": ["RMSE smoothed", "RMSE training", "RMSE validation", "Loss smoothed", "Loss training", "Loss validation"],
                    "range": ["#0072bd", "#a3c9e5", "#333333", "#d95319", "#f3bda5", "#333333"]
                  },
                  "legend": null
                }
              }
            },
            {
              "transform": [{"filter": "!datum.h"}],
              "mark": {"type": "text", "align": "left", "baseline": "middle", "fontSize": 10.5, "color": "#262626"},
              "encoding": {
                "x": {"datum": 1.125, "type": "quantitative", "scale": {"domain": [-0.77, 4.88], "nice": false, "zero": false}, "axis": null},
                "text": {"field": "k"}
              }
            }
          ]
        }
      ]
    }
  ],
  "spacing": 22
}
